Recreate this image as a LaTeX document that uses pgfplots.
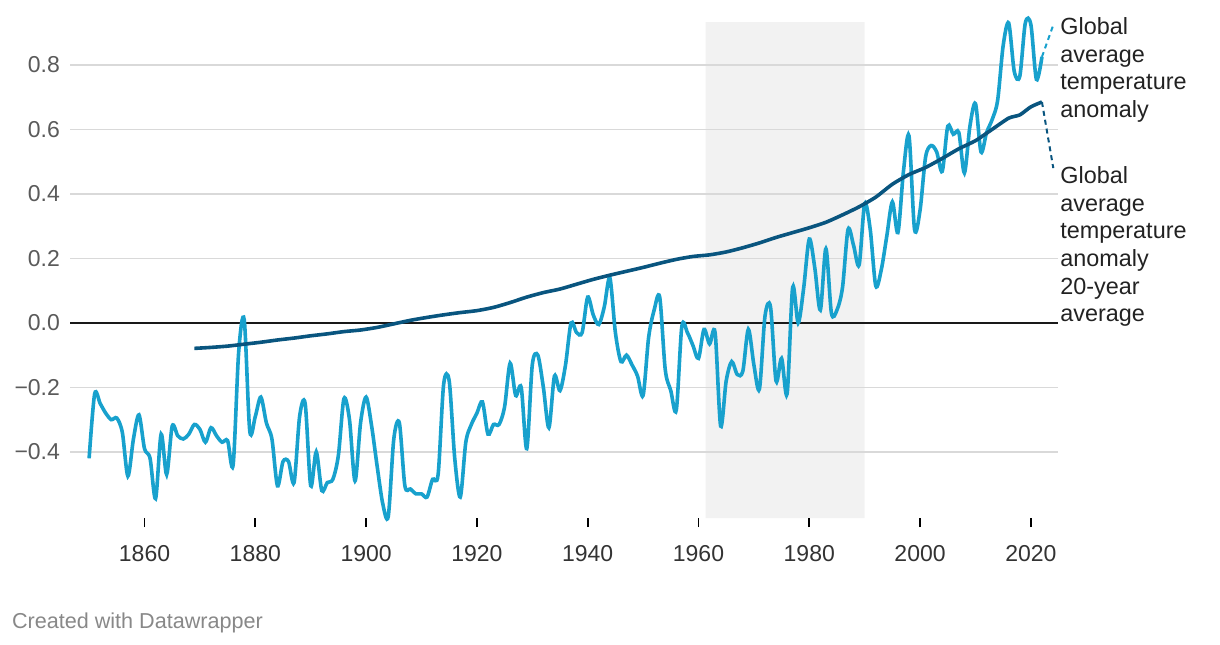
\documentclass[border=0pt]{standalone}
\usepackage{pgfplots}
\pgfplotsset{compat=1.18}
\usepackage{fontspec}
\setmainfont{Liberation Sans}
\definecolor{lblue}{HTML}{18A1CD}
\definecolor{dblue}{HTML}{09557F}
\definecolor{bandc}{HTML}{F2F2F2}
\definecolor{gridc}{HTML}{D9D9D9}
\definecolor{ylab}{HTML}{5A5A5A}
\definecolor{xlab}{HTML}{333333}
\definecolor{foot}{HTML}{888888}
\definecolor{annot}{HTML}{222222}
\begin{document}
\begin{tikzpicture}
\begin{axis}[
 at={(35pt,63pt)}, anchor=south west,
 scale only axis, width=494pt, height=248pt,
 xmin=1846.55, xmax=2024.9, ymin=-0.605, ymax=0.933,
 axis line style={draw=none},
 xtick={1860,1880,1900,1920,1940,1960,1980,2000,2020},
 xticklabels={1860,1880,1900,1920,1940,1960,1980,2000,2020},
 ytick={-0.4,-0.2,0,0.2,0.4,0.6,0.8},
 yticklabels={−0.4,−0.2,0.0,0.2,0.4,0.6,0.8},
 xtick pos=bottom, ytick pos=left,
 tick align=outside,
 major tick length=4.5pt,
 xtick style={draw=black, line width=0.9pt},
 ytick style={draw=none},
 ymajorgrids, grid style={draw=gridc, line width=0.8pt},
 ticklabel style={font=\fontsize{11.5}{13}\selectfont},
 yticklabel style={text=ylab, xshift=3pt},
 xticklabel style={text=xlab, yshift=-5.5pt},
 set layers,
 clip=false,
]
\addplot[fill=bandc, draw=none, on layer=axis background] coordinates {(1961.3,-0.605) (1990,-0.605) (1990,0.933) (1961.3,0.933) (1961.3,-0.605)};
\addplot[black!90, line width=1pt] coordinates {(1846.55,0) (2024.9,0)};
\addplot[lblue, line width=1.8pt, smooth, tension=0.5] coordinates {
(1850,-0.42) (1851,-0.22) (1852,-0.25) (1853,-0.28) (1854,-0.30) (1855,-0.295)
(1856,-0.34) (1857,-0.475) (1858,-0.36) (1859,-0.285) (1860,-0.39) (1861,-0.42)
(1862,-0.545) (1863,-0.345) (1864,-0.47) (1865,-0.32) (1866,-0.35) (1867,-0.36)
(1868,-0.345) (1869,-0.315) (1870,-0.33) (1871,-0.37) (1872,-0.325) (1873,-0.35)
(1874,-0.37) (1875,-0.365) (1876,-0.44) (1877,-0.09) (1878,0.01) (1879,-0.335)
(1880,-0.29) (1881,-0.23) (1882,-0.31) (1883,-0.36) (1884,-0.505) (1885,-0.43)
(1886,-0.43) (1887,-0.495) (1888,-0.29) (1889,-0.25) (1890,-0.505) (1891,-0.40)
(1892,-0.52) (1893,-0.495) (1894,-0.485) (1895,-0.41) (1896,-0.235) (1897,-0.30)
(1898,-0.49) (1899,-0.31) (1900,-0.23) (1901,-0.32) (1902,-0.445) (1903,-0.56)
(1904,-0.60) (1905,-0.36) (1906,-0.31) (1907,-0.505) (1908,-0.515) (1909,-0.53)
(1910,-0.53) (1911,-0.54) (1912,-0.485) (1913,-0.47) (1914,-0.19) (1915,-0.18)
(1916,-0.42) (1917,-0.54) (1918,-0.37) (1919,-0.315) (1920,-0.28) (1921,-0.245)
(1922,-0.345) (1923,-0.315) (1924,-0.315) (1925,-0.26) (1926,-0.125) (1927,-0.225)
(1928,-0.20) (1929,-0.39) (1930,-0.13) (1931,-0.10) (1932,-0.20) (1933,-0.325)
(1934,-0.165) (1935,-0.21) (1936,-0.13) (1937,0.00) (1938,-0.03) (1939,-0.03)
(1940,0.08) (1941,0.025) (1942,-0.005) (1943,0.05) (1944,0.14) (1945,-0.03)
(1946,-0.12) (1947,-0.10) (1948,-0.13) (1949,-0.165) (1950,-0.225) (1951,-0.045)
(1952,0.04) (1953,0.08) (1954,-0.145) (1955,-0.21) (1956,-0.27) (1957,-0.01)
(1958,-0.03) (1959,-0.07) (1960,-0.11) (1961,-0.02) (1962,-0.065) (1963,-0.03)
(1964,-0.32) (1965,-0.18) (1966,-0.12) (1967,-0.16) (1968,-0.15) (1969,-0.02)
(1970,-0.13) (1971,-0.205) (1972,0.02) (1973,0.05) (1974,-0.18) (1975,-0.11)
(1976,-0.22) (1977,0.11) (1978,0.00) (1979,0.11) (1980,0.26) (1981,0.17)
(1982,0.04) (1983,0.23) (1984,0.03) (1985,0.04) (1986,0.11) (1987,0.29)
(1988,0.24) (1989,0.18) (1990,0.37) (1991,0.29) (1992,0.115) (1993,0.165)
(1994,0.27) (1995,0.375) (1996,0.28) (1997,0.47) (1998,0.58) (1999,0.29)
(2000,0.35) (2001,0.515) (2002,0.55) (2003,0.53) (2004,0.47) (2005,0.61)
(2006,0.585) (2007,0.59) (2008,0.465) (2009,0.61) (2010,0.68) (2011,0.53)
(2012,0.59) (2013,0.63) (2014,0.69) (2015,0.86) (2016,0.93) (2017,0.78)
(2018,0.765) (2019,0.93) (2020,0.925) (2021,0.755) (2022,0.825)
};
\addplot[dblue, line width=1.8pt, smooth, tension=0.4] coordinates {
(1869,-0.079) (1872,-0.076) (1875,-0.072) (1878,-0.066) (1881,-0.060) (1884,-0.053)
(1887,-0.047) (1890,-0.040) (1893,-0.034) (1896,-0.027) (1899,-0.022) (1902,-0.014)
(1905,-0.003) (1908,0.008) (1911,0.017) (1914,0.025) (1917,0.032) (1920,0.038)
(1923,0.048) (1926,0.063) (1929,0.080) (1932,0.094) (1935,0.105) (1938,0.120)
(1941,0.135) (1944,0.148) (1947,0.160) (1950,0.172) (1953,0.185) (1956,0.197)
(1959,0.206) (1962,0.211) (1965,0.220) (1968,0.233) (1971,0.248) (1974,0.265)
(1977,0.280) (1980,0.295) (1983,0.312) (1986,0.335) (1989,0.360) (1992,0.390)
(1995,0.430) (1998,0.460) (2001,0.482) (2004,0.510) (2007,0.540) (2010,0.565)
(2013,0.600) (2016,0.635) (2018,0.645) (2020,0.670) (2022,0.685)
};
\addplot[lblue, line width=1pt, dash pattern=on 2.5pt off 2pt] coordinates {(2022,0.825) (2024.05,0.924)};
\addplot[dblue, line width=1pt, dash pattern=on 2.5pt off 2pt] coordinates {(2022,0.685) (2024.05,0.48)};
\end{axis}
\begin{scope}[every node/.style={anchor=base west, inner sep=0pt, text=annot, font=\fontsize{11.7}{13}\selectfont}]
\node at (530pt,304.5pt) {Global};
\node at (530pt,290.75pt) {average};
\node at (530pt,277pt) {temperature};
\node at (530pt,263.25pt) {anomaly};
\node at (530pt,230.5pt) {Global};
\node at (530pt,216.5pt) {average};
\node at (530pt,202.75pt) {temperature};
\node at (530pt,189pt) {anomaly};
\node at (530pt,175pt) {20-year};
\node at (530pt,161.25pt) {average};
\end{scope}
\node[anchor=base west, inner sep=0pt, text=foot, font=\fontsize{10.8}{13}\selectfont] at (5.8pt,8pt) {Created with Datawrapper};
\pgfresetboundingbox
\path[use as bounding box] (0pt,0pt) rectangle (610pt,322pt);
\end{tikzpicture}
\end{document}
